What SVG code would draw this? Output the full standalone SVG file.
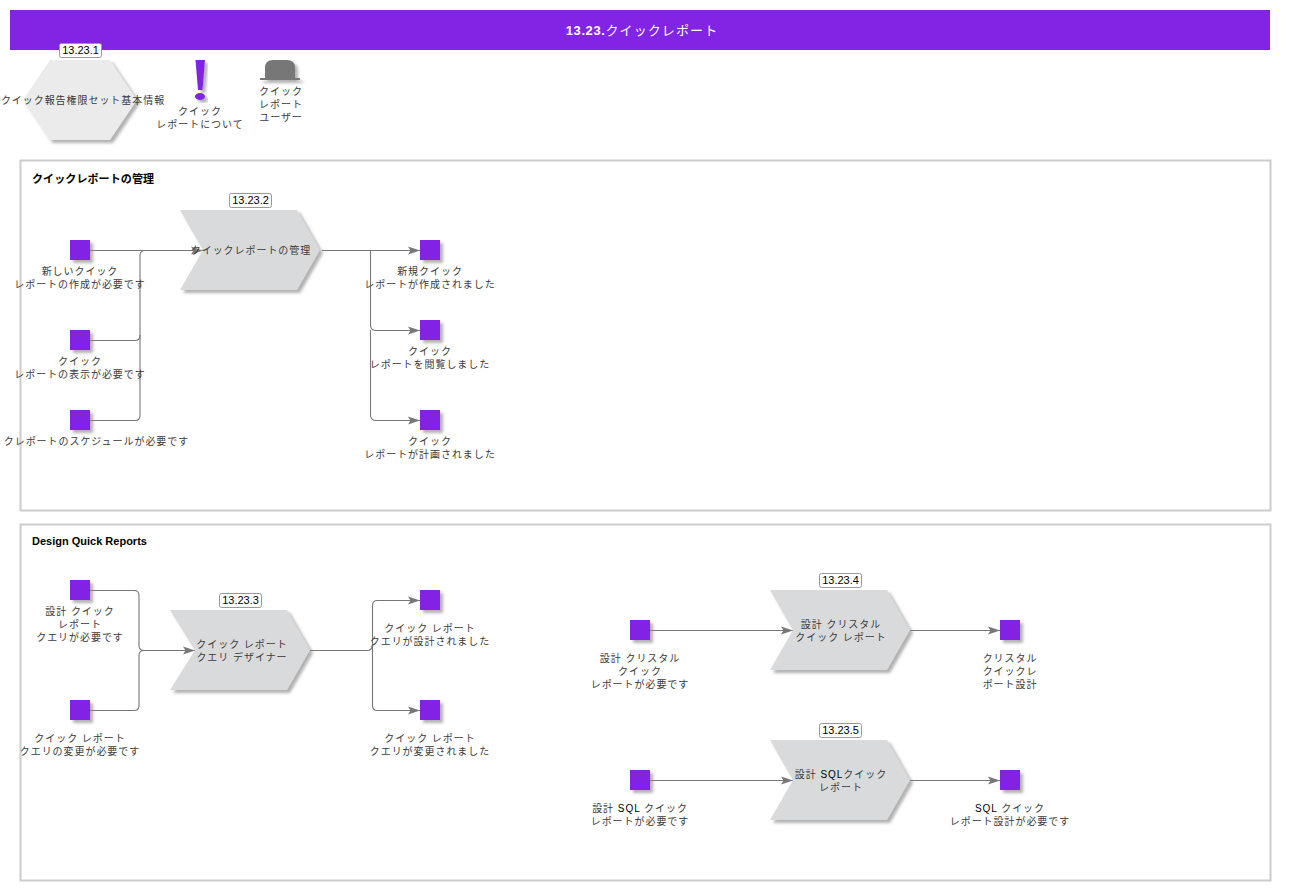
<svg xmlns="http://www.w3.org/2000/svg" width="1290" height="890" viewBox="0 0 1290 890">
<style>
text{font-family:"Liberation Sans","Noto Sans CJK JP",sans-serif;font-size:10px;letter-spacing:.95px;fill:#3a3a3a;text-anchor:middle}
.t{font-size:13px;font-weight:bold;fill:#fff;letter-spacing:.6px}
.t tspan{font-weight:normal;fill:#fff;letter-spacing:1.1px}
.h{font-size:11px;font-weight:bold;fill:#000;text-anchor:start;letter-spacing:0}
.j{letter-spacing:.1px}
.n{font-size:11px;fill:#000;letter-spacing:0}
.l{fill:#000}
.f{fill:#fff;stroke:#ccc;stroke-width:2}
.b{fill:#fff;stroke:#999;stroke-width:1}
.s{fill:#8224e3;filter:url(#sh)}
.c{fill:#d9dadc;filter:url(#sh)}
.x{fill:#ebebeb;filter:url(#sh)}
.g{fill:#777;filter:url(#sh)}
#connectors path{fill:none;stroke:#777;stroke-width:1.1;marker-end:url(#ar)}
#connectors path.p{marker-end:none}
</style>
<defs>
<filter id="sh" x="-20%" y="-20%" width="150%" height="150%"><feDropShadow dx="3" dy="3" stdDeviation="1.500" flood-color="#888" flood-opacity=".65"/></filter>
<marker id="ar" markerUnits="userSpaceOnUse" markerWidth="13" markerHeight="10" refX="12" refY="5" orient="auto"><path d="M0 1 L12 5 L0 9 L2.500 5Z" fill="#777"/></marker>
</defs>
<rect width="1290" height="890" fill="#fff"/>
<g id="header"><rect x="10" y="10" width="1260" height="40" fill="#8224e3"/><text class="t" x="642" y="35">13.23.<tspan>クイックレポート</tspan></text></g>
<g id="frame-1"><rect class="f" x="20.500" y="160.500" width="1250" height="350"/><text class="h j" x="32" y="183">クイックレポートの管理</text></g>
<g id="frame-2"><rect class="f" x="20.500" y="524.500" width="1250" height="356"/><text class="h" x="32" y="545">Design Quick Reports</text></g>
<g id="connectors">
<path d="M90 250.500H203"/>
<path class="p" d="M90 340.500H135q5 0 5-5V255.500q0-5 5-5"/>
<path class="p" d="M90 420.500H135q5 0 5-5V335"/>
<path d="M322 250.500H420"/>
<path d="M370.500 250.500V325q0 5 5 5.500H420"/>
<path class="p" d="M370.500 330V415q0 5 5 5.500H420"/>
<path d="M375.500 420.500H420"/>
<path class="p" d="M90 590.500H134q5 0 5 5V645.500q0 5 5 5"/>
<path class="p" d="M90 710.500H134q5 0 5-5V655.500q0-5 5-5"/>
<path d="M144 650.500H195"/>
<path class="p" d="M310 650.500H367q5 0 5-5"/>
<path d="M372.500 645.500V605.500q0-5 5-5H420"/>
<path d="M372.500 645.500V705.500q0 5 5 5H420"/>
<path d="M650 630.500H793"/><path d="M910 630.500H1000"/>
<path d="M650 780.500H793"/><path d="M910 780.500H1000"/>
</g>
<g id="n1"><polygon class="x" points="50,60 110,60 137,100 110,140 50,140 23,100"/><text x="83" y="104">クイック報告権限セット基本情報</text><rect class="b" x="59.500" y="43.500" width="42" height="14" rx="2"/><text class="n" x="80.500" y="53.500">13.23.1</text></g>
<g id="i1"><path class="s" d="M195.500 60H205L202.500 90H198Z"/><ellipse class="s" cx="200" cy="96.500" rx="5" ry="3.500"/><text x="200" y="115">クイック</text><text x="200" y="128">レポートについて</text></g>
<g id="i2"><path class="g" d="M265 78V68q0-8 8-8H287q8 0 8 8V78ZM260 78H300V80H260Z"/><text x="281" y="95">クイック</text><text x="281" y="108">レポート</text><text x="281" y="121">ユーザー</text></g>
<g id="a2"><polygon class="c" points="180,210 297,210 320,250 297,290 180,290 203,250"/><text x="251" y="254">クイックレポートの管理</text><rect class="b" x="229.500" y="193.500" width="42" height="14" rx="2"/><text class="n" x="250.500" y="203.500">13.23.2</text></g>
<g id="a3"><polygon class="c" points="170,610 287,610 310,650 287,690 170,690 195,650"/><text x="242" y="648">クイック レポート</text><text x="242" y="661">クエリ デザイナー</text><rect class="b" x="219.500" y="593.500" width="42" height="14" rx="2"/><text class="n" x="240.500" y="603.500">13.23.3</text></g>
<g id="a4"><polygon class="c" points="770,590 887,590 910,630 887,670 770,670 793,630"/><text x="841" y="628">設計 クリスタル</text><text x="841" y="641">クイック レポート</text><rect class="b" x="819.500" y="573.500" width="42" height="14" rx="2"/><text class="n" x="840.500" y="583.500">13.23.4</text></g>
<g id="a5"><polygon class="c" points="770,740 887,740 910,780 887,820 770,820 793,780"/><text x="841" y="778">設計 <tspan class="l">SQL</tspan>クイック</text><text x="841" y="791">レポート</text><rect class="b" x="819.500" y="723.500" width="42" height="14" rx="2"/><text class="n" x="840.500" y="733.500">13.23.5</text></g>
<g id="e1"><rect class="s" x="70" y="240" width="20" height="20"/><text x="80" y="275">新しいクイック</text><text x="80" y="288">レポートの作成が必要です</text></g>
<g id="e2"><rect class="s" x="70" y="330" width="20" height="20"/><text x="80" y="365">クイック</text><text x="80" y="378">レポートの表示が必要です</text></g>
<g id="e3"><rect class="s" x="70" y="410" width="20" height="20"/><text x="96.500" y="445">クレポートのスケジュールが必要です</text></g>
<g id="e4"><rect class="s" x="420" y="240" width="20" height="20"/><text x="430" y="275">新規クイック</text><text x="430" y="288">レポートが作成されました</text></g>
<g id="e5"><rect class="s" x="420" y="320" width="20" height="20"/><text x="430" y="355">クイック</text><text x="430" y="368">レポートを閲覧しました</text></g>
<g id="e6"><rect class="s" x="420" y="410" width="20" height="20"/><text x="430" y="445">クイック</text><text x="430" y="458">レポートが計画されました</text></g>
<g id="e7"><rect class="s" x="70" y="580" width="20" height="20"/><text x="80" y="615">設計 クイック</text><text x="80" y="628">レポート</text><text x="80" y="641">クエリが必要です</text></g>
<g id="e8"><rect class="s" x="70" y="700" width="20" height="20"/><text x="80" y="742">クイック レポート</text><text x="80" y="755">クエリの変更が必要です</text></g>
<g id="e9"><rect class="s" x="420" y="590" width="20" height="20"/><text x="430" y="632">クイック レポート</text><text x="430" y="645">クエリが設計されました</text></g>
<g id="e10"><rect class="s" x="420" y="700" width="20" height="20"/><text x="430" y="742">クイック レポート</text><text x="430" y="755">クエリが変更されました</text></g>
<g id="e11"><rect class="s" x="630" y="620" width="20" height="20"/><text x="640" y="662">設計 クリスタル</text><text x="640" y="675">クイック</text><text x="640" y="688">レポートが必要です</text></g>
<g id="e12"><rect class="s" x="630" y="770" width="20" height="20"/><text x="640" y="812">設計 <tspan class="l">SQL</tspan> クイック</text><text x="640" y="825">レポートが必要です</text></g>
<g id="e13"><rect class="s" x="1000" y="620" width="20" height="20"/><text x="1010" y="662">クリスタル</text><text x="1010" y="675">クイックレ</text><text x="1010" y="688">ポート設計</text></g>
<g id="e14"><rect class="s" x="1000" y="770" width="20" height="20"/><text x="1010" y="812"><tspan class="l">SQL</tspan> クイック</text><text x="1010" y="825">レポート設計が必要です</text></g>
</svg>
